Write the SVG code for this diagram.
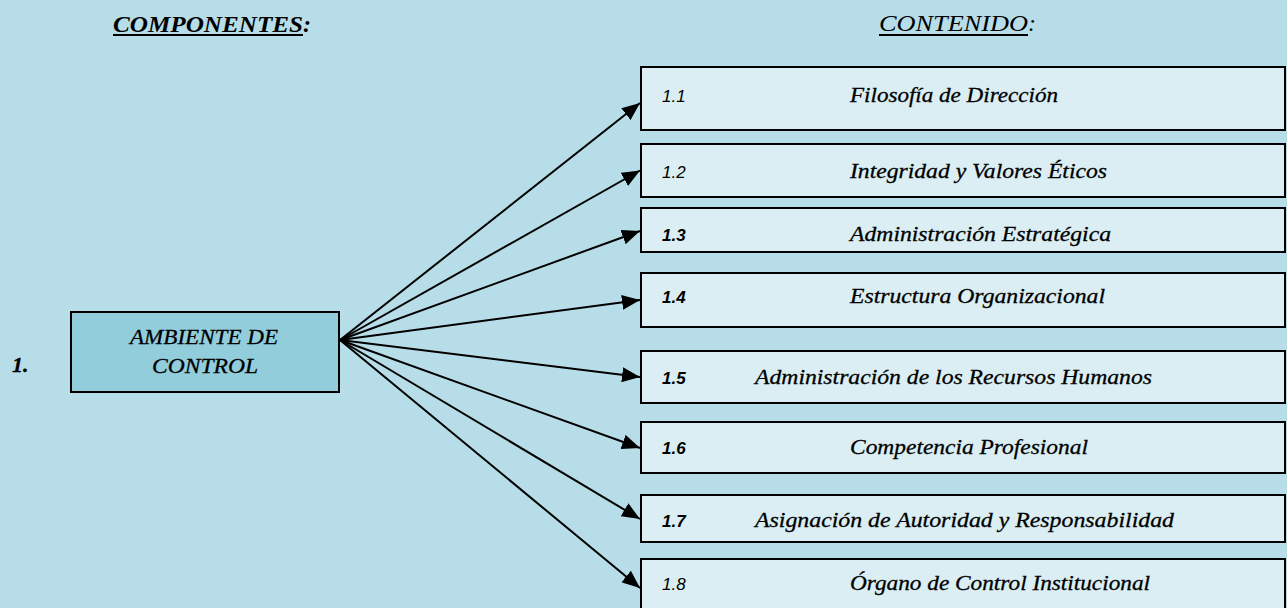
<svg xmlns="http://www.w3.org/2000/svg" width="1287" height="608" viewBox="0 0 1287 608">
<style>
.bg{fill:#B7DDE8}
.box{fill:#DAEEF3;stroke:#000;stroke-width:2}
.main{fill:#92CDDC;stroke:#000;stroke-width:2}
.t{font-family:"Liberation Serif","Times New Roman",serif;font-style:italic;font-size:22px;fill:#000;stroke:#000;stroke-width:0.3}
.h{font-family:"Liberation Serif","Times New Roman",serif;font-style:italic;font-size:24px;fill:#000}
.n{font-family:"Liberation Sans",Arial,sans-serif;font-style:italic;font-size:17px;fill:#000}
.nb{font-weight:bold}
.ul{stroke:#000;stroke-width:2}
.c{fill:none;stroke:#000;stroke-width:2}
</style>
<defs>
<marker id="ah" markerUnits="userSpaceOnUse" markerWidth="19" markerHeight="15" refX="18" refY="7.5" orient="auto">
<path d="M0,0 L18,7.5 L0,15 Z" fill="#000"/>
</marker>
</defs>
<rect class="bg" x="0" y="0" width="1287" height="608"/>

<g id="header-componentes">
<text class="h" font-weight="bold" x="113" y="31.5" textLength="190" lengthAdjust="spacingAndGlyphs">COMPONENTES</text>
<text class="h" font-weight="bold" x="303" y="31.5">:</text>
<line class="ul" x1="113" y1="35" x2="303" y2="35"/>
</g>
<g id="header-contenido">
<text class="h" x="879" y="31" textLength="149" lengthAdjust="spacingAndGlyphs">CONTENIDO</text>
<text class="h" x="1028" y="31">:</text>
<line class="ul" x1="879" y1="35" x2="1028" y2="35"/>
</g>

<g id="connectors">
<line class="c" x1="340" y1="340" x2="640" y2="103" marker-end="url(#ah)"/>
<line class="c" x1="340" y1="340" x2="640" y2="170.5" marker-end="url(#ah)"/>
<line class="c" x1="340" y1="340" x2="640" y2="231" marker-end="url(#ah)"/>
<line class="c" x1="340" y1="340" x2="640" y2="300" marker-end="url(#ah)"/>
<line class="c" x1="340" y1="340" x2="640" y2="377" marker-end="url(#ah)"/>
<line class="c" x1="340" y1="340" x2="640" y2="448" marker-end="url(#ah)"/>
<line class="c" x1="340" y1="340" x2="640" y2="519" marker-end="url(#ah)"/>
<line class="c" x1="340" y1="340" x2="640" y2="588" marker-end="url(#ah)"/>
</g>

<g id="label-1">
<text class="t" font-weight="bold" font-size="20" x="12" y="372">1.</text>
</g>
<g id="ambiente">
<rect class="main" x="71" y="312" width="268" height="80"/>
<text class="t" font-size="21" x="130" y="344" textLength="148" lengthAdjust="spacingAndGlyphs">AMBIENTE DE</text>
<text class="t" font-size="21" x="152" y="373" textLength="106" lengthAdjust="spacingAndGlyphs">CONTROL</text>
</g>

<g id="c11">
<rect class="box" x="641" y="67" width="644" height="63"/>
<text class="n" x="662" y="101.5">1.1</text>
<text class="t" x="850" y="101.5" textLength="208" lengthAdjust="spacingAndGlyphs">Filosofía de Dirección</text>
</g>
<g id="c12">
<rect class="box" x="641" y="144" width="644" height="53"/>
<text class="n" x="662" y="178">1.2</text>
<text class="t" x="850" y="178" textLength="257" lengthAdjust="spacingAndGlyphs">Integridad y Valores Éticos</text>
</g>
<g id="c13">
<rect class="box" x="641" y="208" width="644" height="44"/>
<text class="n nb" x="662" y="240.5">1.3</text>
<text class="t" x="850" y="240.5" textLength="261" lengthAdjust="spacingAndGlyphs">Administración Estratégica</text>
</g>
<g id="c14">
<rect class="box" x="641" y="273" width="644" height="54"/>
<text class="n nb" x="662" y="303">1.4</text>
<text class="t" x="850" y="303" textLength="255" lengthAdjust="spacingAndGlyphs">Estructura Organizacional</text>
</g>
<g id="c15">
<rect class="box" x="641" y="351" width="644" height="52"/>
<text class="n nb" x="662" y="383.5">1.5</text>
<text class="t" x="755" y="383.5" textLength="397" lengthAdjust="spacingAndGlyphs">Administración de los Recursos Humanos</text>
</g>
<g id="c16">
<rect class="box" x="641" y="422" width="644" height="51"/>
<text class="n nb" x="662" y="453.5">1.6</text>
<text class="t" x="850" y="453.5" textLength="238" lengthAdjust="spacingAndGlyphs">Competencia Profesional</text>
</g>
<g id="c17">
<rect class="box" x="641" y="495" width="644" height="47"/>
<text class="n nb" x="662" y="527">1.7</text>
<text class="t" x="755" y="527" textLength="419" lengthAdjust="spacingAndGlyphs">Asignación de Autoridad y Responsabilidad</text>
</g>
<g id="c18">
<rect class="box" x="641" y="559" width="644" height="60"/>
<text class="n" x="662" y="590">1.8</text>
<text class="t" x="850" y="590" textLength="300" lengthAdjust="spacingAndGlyphs">Órgano de Control Institucional</text>
</g>
</svg>
